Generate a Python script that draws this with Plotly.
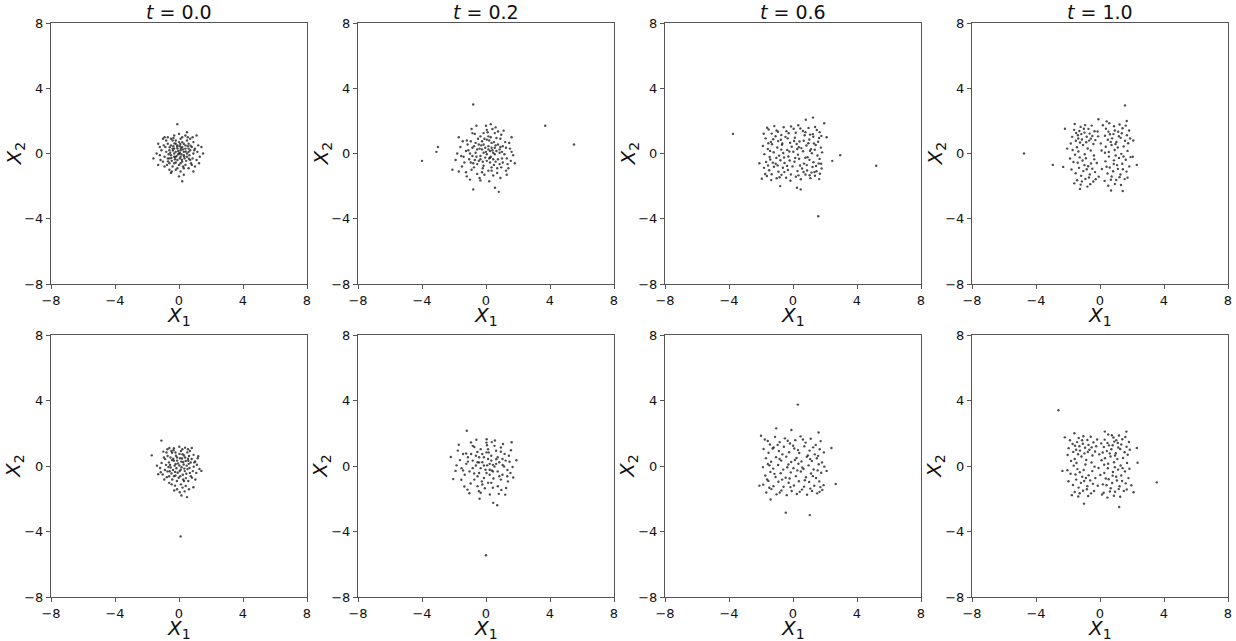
import plotly.graph_objects as go

# ---------------- data (data units) ----------------
time_labels = ["0.0", "0.2", "0.6", "1.0"]
tick_vals = [-8, -4, 0, 4, 8]
tick_text = ["\u22128", "\u22124", "0", "4", "8"]

pts_top_t00 = [
    (-0.1,1.8),(0.2,-1.7),(-1.6,-0.3),(1.5,0.0),(1.1,1.1),(0.5,1.3),(-0.9,1.0),(-1.3,0.6),(0.9,-1.1),(-0.5,-1.2),(0.0,-1.4),(0.3,-1.3),(-0.2,-1.0),
    (0.0,0.0),(0.1,0.2),(-0.2,0.1),(0.3,-0.1),(-0.3,-0.2),(0.2,0.4),(-0.1,-0.4),(0.4,0.3),(-0.4,0.3),(0.5,-0.2),(-0.5,-0.1),(0.1,-0.2),(-0.1,0.3),
    (0.6,0.1),(-0.6,0.2),(0.2,-0.5),(-0.2,0.6),(0.3,0.6),(-0.3,-0.6),(0.7,-0.4),(-0.7,-0.3),(0.0,0.7),(0.0,-0.7),(0.8,0.4),(-0.8,0.1),(0.4,-0.7),
    (-0.4,0.8),(0.6,0.6),(-0.6,-0.6),(0.9,0.0),(-0.9,-0.2),(0.1,0.9),(-0.1,-0.9),(0.5,0.8),(-0.5,0.5),(0.7,0.2),(-0.7,0.6),(0.3,0.1),(-0.3,0.0),
    (0.15,-0.05),(-0.05,0.15),(0.25,0.25),(-0.25,-0.35),(0.45,-0.45),(-0.45,-0.45),(0.55,0.45),(-0.55,0.05),(0.05,0.45),(0.05,-0.3),(-0.15,-0.15),
    (0.35,-0.3),(-0.35,0.45),(0.65,-0.1),(-0.65,-0.05),(0.85,-0.3),(-0.85,0.4),(1.0,0.3),(-1.0,-0.5),(1.1,-0.4),(-1.1,0.2),(1.2,0.5),(-1.2,-0.1),
    (0.9,0.7),(-0.9,-0.8),(0.2,1.0),(-0.3,1.1),(0.6,-0.9),(-0.6,-1.0),(0.8,-0.7),(-0.8,0.8),(1.3,-0.2),(-1.4,0.0),(0.4,1.1),(-0.7,1.0),(1.0,-0.8),
    (-1.0,0.9),(0.0,1.2),(0.1,-1.1),(-0.4,-0.8),(0.7,0.9),(0.3,-0.9),(-0.2,0.8),(0.5,0.0),(-0.5,0.9),(0.6,0.3),(-0.1,0.5),(0.2,0.7),(-0.3,0.3),
    (0.4,0.5),(-0.6,-0.3),(0.1,-0.6),(-0.2,-0.55),(0.75,-0.6),(-0.75,-0.7),(0.95,0.2),(-0.95,0.5),(1.15,0.1),(-1.15,-0.4),(0.25,-0.8),(-0.45,-1.1),
    (0.55,1.0),(-0.35,0.95),(1.4,0.4),(-1.3,-0.7),(0.85,1.0),(1.25,-0.6),(-1.2,0.4),(0.05,0.05),(-0.05,-0.05),(0.12,0.32),(-0.22,-0.22),(0.32,-0.18),
    (-0.38,0.18),(0.42,0.12),(-0.12,0.42),(0.18,-0.38),(-0.48,-0.28),(0.62,-0.32),(-0.28,0.62),(0.08,0.58),(-0.58,0.38),(0.72,0.48),(-0.68,-0.48),
]

pts_top_t02 = [
    (-0.8,3.0),(-3.0,0.4),(-4.0,-0.45),(-3.1,0.1),(3.7,1.7),(5.5,0.55),(-2.1,-1.0),(-0.8,-2.2),(0.8,-2.35),(0.56,-2.1),
    (0.0,0.1),(0.3,-0.2),(-0.4,0.3),(0.6,0.5),(-0.7,-0.4),(0.2,0.8),(-0.2,-0.9),(1.0,0.1),(-1.1,0.2),(0.5,-0.7),(-0.5,0.9),(0.9,0.9),(-0.9,-1.0),
    (1.3,-0.3),(-1.4,-0.2),(0.1,1.3),(-0.1,-1.3),(1.2,0.7),(-1.2,0.8),(0.7,-1.2),(-0.7,1.2),(1.5,0.3),(-1.6,0.4),(1.4,-0.9),(-1.5,-0.8),(0.4,1.5),
    (-0.4,-1.5),(0.9,-1.5),(-0.9,1.5),(1.7,-0.1),(-1.8,0.0),(0.0,1.7),(0.2,-1.7),(1.1,1.4),(-1.2,-1.4),(1.6,1.0),(-1.7,1.0),(1.3,-1.3),(-1.0,-1.6),
    (0.6,1.6),(-0.6,1.7),(0.15,0.45),(-0.35,-0.15),(0.45,0.05),(-0.15,0.55),(0.75,-0.35),(-0.85,0.35),(0.25,-0.55),(-0.55,-0.65),(0.85,0.25),
    (-0.25,0.25),(0.05,-0.45),(0.35,0.65),(-0.65,0.05),(0.55,-0.05),(-0.45,0.55),(1.05,-0.55),(-1.05,-0.35),(0.15,1.05),(-0.15,-0.75),(0.65,0.95),
    (-0.75,-0.85),(1.25,0.35),(-1.25,0.15),(0.95,-0.85),(-0.95,0.75),(0.35,-1.05),(-0.35,1.05),(1.45,0.65),(-1.35,-0.55),(0.55,1.25),(-0.55,-1.25),
    (0.25,0.15),(-0.05,-0.25),(0.45,-0.35),(-0.25,0.75),(0.75,0.55),(-0.85,-0.15),(1.15,-0.05),(-1.15,0.55),(0.05,0.85),(0.15,-1.05),(0.85,-0.65),
    (-0.45,-0.45),(0.35,0.35),(-0.15,0.05),(0.65,0.15),(-0.65,0.65),(1.35,-0.65),(-1.45,0.75),(0.95,1.15),(-0.25,-1.15),(0.45,-1.35),(-0.85,1.25),
    (1.55,-0.45),(-1.55,-0.15),(0.05,1.45),(-0.35,-1.65),(1.05,0.45),(-0.55,0.25),(0.25,-0.25),(-0.05,0.35),(0.55,0.35),(-0.35,-0.35),(0.15,0.25),
    (0.85,0.05),(-0.95,-0.55),(0.35,-0.85),(-0.15,1.25),(1.25,-1.05),(-1.25,-1.15),(0.75,1.35),(-0.75,0.45),(0.05,-0.05),(0.4,0.2),(-0.3,0.5),
    (0.6,-0.5),(-0.6,-0.2),(0.2,-0.3),(-0.2,-0.5),(0.9,0.4),(-0.1,0.9),(0.7,-0.9),(-1.0,0.0),(1.0,-0.3),(0.3,1.0),(-0.8,-0.6),(0.5,0.7),(1.6,0.1),
    (-1.9,-0.4),(1.8,-0.6),(-1.7,-1.1),(0.3,1.8),
]

pts_top_t06 = [
    (-3.75,1.2),(5.2,-0.75),(1.58,-3.85),(2.95,-0.1),(2.45,-0.45),(0.8,2.07),(1.25,2.2),(0.25,-2.1),(0.48,-2.2),(-0.8,-2.0),(2.1,1.0),(-2.1,-0.6),
    (1.95,1.85),(-1.95,-1.55),
    (-1.83,1.21),(-1.52,1.47),(-1.17,1.68),(-0.94,1.33),(-0.58,1.61),(-0.27,1.24),(0.04,1.52),(0.33,1.73),(0.62,1.38),(0.97,1.57),(1.24,1.19),
    (1.49,1.44),(1.77,1.08),(-1.71,0.93),(-1.38,0.71),(-1.09,1.06),(-0.76,0.84),(-0.47,1.02),(-0.18,0.66),(0.12,0.97),(0.41,0.74),(0.73,1.12),
    (1.02,0.86),(1.31,0.62),(1.63,0.95),(-1.88,0.46),(-1.57,0.28),(-1.31,0.57),(-0.98,0.37),(-0.69,0.53),(-0.36,0.22),(-0.08,0.41),(0.23,0.58),
    (0.52,0.33),(0.84,0.49),(1.13,0.27),(1.42,0.52),(1.74,0.36),(-1.79,-0.04),(-1.46,-0.21),(-1.21,0.08),(-0.87,-0.13),(-0.61,0.03),(-0.29,-0.18),
    (0.02,0.11),(0.31,-0.07),(0.63,0.14),(0.91,-0.23),(1.18,0.02),(1.53,-0.12),(1.82,0.07),(-1.68,-0.52),(-1.42,-0.37),(-1.08,-0.63),(-0.79,-0.41),
    (-0.53,-0.58),(-0.21,-0.43),(0.09,-0.51),(0.38,-0.32),(0.69,-0.62),(1.03,-0.39),(1.28,-0.54),(1.61,-0.61),(-1.81,-0.88),(-1.49,-1.03),
    (-1.19,-0.81),(-0.91,-1.12),(-0.63,-0.87),(-0.32,-1.01),(-0.03,-0.79),(0.28,-1.08),(0.57,-0.92),(0.88,-1.04),(1.22,-0.83),(1.47,-1.09),
    (1.79,-0.92),(-1.63,-1.38),(-1.33,-1.27),(-1.02,-1.52),(-0.72,-1.31),(-0.43,-1.49),(-0.13,-1.28),(0.18,-1.42),(0.49,-1.58),(0.78,-1.29),
    (1.09,-1.51),(1.37,-1.36),(1.68,-1.24),(-1.62,1.58),(-1.33,1.22),(-1.03,1.41),(-0.73,1.13),(-0.41,1.37),(-0.12,1.66),(0.17,1.27),(0.46,1.53),
    (0.78,1.31),(1.07,1.16),(1.38,1.62),(1.67,1.31),(-1.54,0.63),(-1.24,0.87),(-0.93,0.76),(-0.67,0.61),(-0.33,0.93),(0.07,0.77),(0.36,0.38),
    (0.67,0.78),(0.96,0.63),(1.27,1.03),(1.57,0.72),(-1.43,0.16),(-1.04,-0.27),(-0.74,0.24),(-0.23,0.12),(0.26,0.27),(0.77,-0.26),(1.06,0.17),
    (1.36,0.23),(1.66,-0.33),(-1.56,-0.74),(-1.26,-0.56),(-0.96,-0.73),(-0.56,-0.24),(-0.37,-0.76),(0.14,-0.27),(0.44,-0.74),(0.86,-0.71),
    (1.16,-1.17),(1.44,-0.77),(1.76,-0.63),(-1.74,-1.26),(-1.36,-1.63),(-0.84,-1.46),(-0.54,-1.14),(-0.16,-1.67),(0.34,-1.34),(0.66,-1.13),
    (1.04,-1.33),(1.34,-1.14),(1.64,-1.57),
]

pts_top_t10 = [
    (1.56,2.95),(-2.95,-0.7),(-4.75,0.0),(-2.19,1.52),(-2.3,-0.82),(1.67,1.99),(1.42,-2.3),(-1.25,-2.17),(0.69,-2.27),(2.08,0.8),(2.05,-0.2),
    (2.3,-0.7),(-0.1,2.1),(-2.05,0.3),
    (-1.62,1.45),(-1.38,1.12),(-1.21,1.63),(-0.97,1.28),(-0.72,1.51),(-0.48,1.07),(-1.51,0.78),(-1.13,0.86),(-0.86,0.69),(-0.57,0.91),(-0.34,1.36),
    (-1.74,1.02),(-1.29,1.38),(-0.93,1.74),(-0.64,1.22),(-1.06,0.52),(-1.44,0.38),(-0.77,0.31),(-0.41,0.58),(-1.83,0.61),(-1.17,1.19),(-0.83,1.03),
    (-1.36,0.92),(-0.52,1.71),(-1.58,1.81),(-0.29,0.82),(-1.01,1.52),(-1.25,0.67),(-0.68,0.79),(-1.49,1.26),
    (0.37,1.52),(0.62,1.18),(0.88,1.67),(1.14,1.33),(1.41,1.55),(1.68,1.12),(0.49,0.84),(0.76,0.93),(1.03,0.71),(1.29,0.96),(1.57,0.78),(1.82,1.41),
    (0.31,1.09),(0.93,1.41),(1.22,1.78),(0.58,1.86),(1.48,0.43),(1.11,0.37),(0.72,0.52),(0.36,0.41),(1.76,0.63),(0.84,1.19),(1.36,1.24),(0.53,1.34),
    (1.61,1.71),(0.97,0.58),(1.18,1.06),(0.67,0.71),(1.88,0.92),(0.42,1.97),
    (-1.66,-0.52),(-1.31,-0.88),(-1.09,-0.43),(-0.83,-0.97),(-0.56,-0.61),(-0.31,-1.14),(-1.52,-1.21),(-1.18,-1.37),(-0.91,-1.56),(-0.64,-1.28),
    (-0.42,-1.72),(-1.78,-0.98),(-1.43,-1.64),(-1.04,-1.08),(-0.74,-0.78),(-0.48,-0.93),(-1.27,-0.24),(-0.88,-0.29),(-0.61,-1.88),(-1.61,-1.83),
    (-1.21,-1.91),(-0.36,-0.36),(-1.87,-0.31),(-0.97,-0.71),(-1.39,-0.57),(-0.69,-1.47),(-1.13,-1.71),(-0.27,-1.58),(-1.56,-0.07),(-0.79,-2.03),
    (0.34,-0.48),(0.61,-0.86),(0.87,-0.42),(1.12,-0.94),(1.39,-0.63),(1.66,-1.11),(0.47,-1.23),(0.73,-1.41),(1.01,-1.62),(1.28,-1.29),(1.54,-1.57),
    (1.83,-0.79),(0.29,-1.68),(0.82,-1.09),(1.19,-0.27),(1.47,-0.18),(0.56,-0.19),(0.93,-1.87),(1.31,-1.93),(1.72,-1.48),(0.41,-0.81),(1.07,-0.71),
    (1.61,-0.38),(0.68,-1.61),(1.22,-1.45),(0.86,-0.64),(1.43,-0.97),(0.52,-1.98),(1.91,-0.22),(0.98,-0.12),
    (-1.35,0.12),(-0.95,-0.05),(-0.58,0.18),(-1.71,0.21),(0.55,0.09),(0.92,0.21),(1.33,-0.02),(1.72,0.16),(-0.38,-0.12),(0.31,0.05),
    (-0.15,1.35),(0.12,-0.95),(0.05,0.62),(-0.08,-1.42),(0.18,1.73),(-0.2,-0.58),(0.1,0.18),(-0.12,1.05),
]

pts_bot_t00 = [
    (-1.1,1.55),(-1.7,0.65),(0.1,-4.3),(0.5,-1.9),(0.15,-1.8),(1.4,-0.3),(1.2,0.6),(-1.3,-0.5),(0.8,1.1),(-0.6,1.1),(0.9,-1.3),(-0.3,-1.5),
    (0.02,0.03),(0.14,0.27),(-0.21,0.12),(0.33,-0.16),(-0.37,-0.24),(0.19,0.46),(-0.08,-0.41),(0.42,0.31),(-0.44,0.36),(0.53,-0.19),(-0.52,-0.09),
    (0.11,-0.23),(-0.12,0.33),(0.61,0.13),(-0.63,0.22),(0.24,-0.53),(-0.19,0.63),(0.31,0.64),(-0.31,-0.62),(0.68,-0.42),(-0.72,-0.33),(0.03,0.74),
    (-0.02,-0.72),(0.79,0.43),(-0.81,0.07),(0.43,-0.74),(-0.43,0.81),(0.63,0.61),(-0.62,-0.63),(0.92,-0.04),(-0.88,-0.24),(0.12,0.92),(-0.13,-0.92),
    (0.52,0.83),(-0.53,0.52),(0.73,0.21),(-0.71,0.61),(0.29,0.09),(-0.27,0.02),(0.16,-0.07),(-0.06,0.16),(0.26,0.24),(-0.24,-0.36),(0.46,-0.47),
    (-0.47,-0.46),(0.56,0.44),(-0.56,0.06),(0.07,0.47),(0.04,-0.31),(-0.16,-0.14),(0.36,-0.31),(-0.36,0.44),(0.66,-0.12),(-0.66,-0.06),(0.86,-0.31),
    (-0.86,0.42),(1.01,0.28),(-1.02,-0.52),(1.08,-0.42),(-1.09,0.19),(1.17,0.47),(-1.18,-0.12),(0.91,0.68),(-0.92,-0.82),(0.21,1.02),(-0.32,1.08),
    (0.58,-0.92),(-0.61,-1.03),(0.81,-0.71),(-0.78,0.82),(1.28,-0.18),(-1.38,0.02),(0.38,1.12),(-0.72,1.02),(1.02,-0.82),(-0.98,0.88),(0.02,1.18),
    (0.12,-1.12),(-0.42,-0.82),(0.68,0.92),(0.31,-0.92),(-0.22,0.82),(0.48,0.02),(-0.48,0.92),(0.58,0.32),(-0.12,0.52),(0.22,0.72),(-0.32,0.32),
    (0.38,0.52),(-0.58,-0.32),(0.08,-0.62),(-0.22,-0.58),(0.74,-0.62),(-0.76,-0.68),(0.96,0.22),(-0.94,0.52),(1.12,0.08),(-1.14,-0.38),(0.26,-0.82),
    (-0.46,-1.12),(0.56,1.02),(-0.34,0.96),(0.22,-1.32),(-0.12,-1.42),(0.42,-1.22),(0.05,-1.6),(-0.25,-1.2),(0.62,-1.42),(0.35,-1.55),
]

pts_bot_t02 = [
    (-1.2,2.15),(-2.05,-0.8),(0.7,-2.4),(0.0,-5.45),(0.45,-2.25),(-2.2,0.55),(1.9,0.35),(-0.4,-2.0),(1.6,1.45),(-1.7,1.3),
    (0.07,0.04),(0.36,-0.27),(-0.43,0.22),(0.64,0.41),(-0.74,-0.46),(0.17,0.83),(-0.26,-0.94),(1.04,0.06),(-1.13,0.27),(0.47,-0.76),(-0.54,0.86),
    (0.93,0.87),(-0.96,-1.07),(1.34,-0.24),(-1.43,-0.27),(0.06,1.27),(-0.07,-1.36),(1.16,0.74),(-1.24,0.76),(0.74,-1.24),(-0.73,1.16),(1.47,0.26),
    (-1.63,0.36),(1.37,-0.94),(-1.54,-0.84),(0.36,1.46),(-0.44,-1.54),(0.96,-1.46),(-0.94,1.44),(1.66,-0.06),(-1.84,0.04),(0.04,1.63),(0.24,-1.74),
    (1.06,1.34),(-1.16,-1.44),(1.56,0.96),(-1.76,0.94),(1.26,-1.34),(-1.04,-1.66),(0.56,1.56),(0.13,0.43),(-0.33,-0.13),(0.43,0.07),(-0.13,0.53),
    (0.73,-0.33),(-0.83,0.33),(0.23,-0.53),(-0.53,-0.63),(0.83,0.23),(-0.23,0.23),(0.03,-0.43),(0.33,0.63),(-0.63,0.03),(0.53,-0.03),(-0.43,0.53),
    (1.03,-0.53),(-1.03,-0.33),(0.13,1.03),(-0.13,-0.73),(0.63,0.93),(-0.73,-0.83),(1.23,0.33),(-1.23,0.13),(0.93,-0.83),(-0.93,0.73),(0.33,-1.03),
    (-0.33,1.03),(1.43,0.63),(-1.33,-0.53),(0.53,1.23),(-0.53,-1.23),(0.23,0.13),(-0.03,-0.23),(0.43,-0.33),(-0.23,0.73),(0.73,0.53),(-0.83,-0.13),
    (1.13,-0.03),(-1.13,0.53),(0.03,0.83),(0.13,-1.03),(0.83,-0.63),(-0.43,-0.43),(0.33,0.33),(-0.13,0.03),(0.63,0.13),(-0.63,0.63),(1.33,-0.63),
    (-1.43,0.73),(0.93,1.13),(-0.23,-1.13),(0.43,-1.33),(-0.83,1.23),(1.53,-0.43),(-1.53,-0.13),(0.03,1.43),(-0.33,-1.63),(1.03,0.43),(-0.53,0.23),
    (0.23,-0.23),(1.7,-0.7),(-1.9,-0.3),(0.8,-1.7),(-0.6,1.6),(1.2,-1.75),(-1.35,-1.25),
]

pts_bot_t06 = [
    (-1.05,2.3),(-0.1,2.2),(-2.0,1.85),(2.4,1.1),(2.67,-1.1),(-0.45,-2.85),(1.05,-3.0),(0.3,3.75),(2.1,-0.3),(-2.1,-1.2),(1.6,2.05),(-1.4,-2.05),
    (-1.76,1.62),(-1.44,1.31),(-1.12,1.78),(-0.83,1.46),(-0.51,1.69),(-0.19,1.37),(0.14,1.58),(0.47,1.81),(0.79,1.43),(1.11,1.66),(1.42,1.29),
    (1.73,1.52),(-1.84,1.04),(-1.53,0.81),(-1.21,1.13),(-0.88,0.92),(-0.57,1.18),(-0.24,0.84),(0.08,1.07),(0.39,0.79),(0.71,1.21),(1.04,0.94),
    (1.36,0.71),(1.67,1.02),(1.93,0.83),(-1.69,0.48),(-1.37,0.26),(-1.06,0.54),(-0.74,0.33),(-0.42,0.57),(-0.11,0.24),(0.22,0.49),(0.53,0.28),
    (0.86,0.56),(1.18,0.31),(1.49,0.47),(1.81,0.22),(-1.88,-0.07),(-1.57,0.12),(-1.24,-0.16),(-0.93,0.06),(-0.61,-0.22),(-0.29,0.09),(0.03,-0.13),
    (0.34,0.14),(0.66,-0.18),(0.97,0.04),(1.29,-0.21),(1.61,0.11),(1.96,-0.04),(-1.73,-0.58),(-1.41,-0.36),(-1.09,-0.67),(-0.77,-0.44),(-0.46,-0.71),
    (-0.14,-0.39),(0.18,-0.62),(0.49,-0.34),(0.81,-0.69),(1.13,-0.46),(1.44,-0.73),(1.76,-0.41),(-1.86,-1.14),(-1.54,-0.91),(-1.22,-1.23),
    (-0.91,-0.96),(-0.59,-1.27),(-0.27,-1.02),(0.06,-1.19),(0.37,-0.93),(0.69,-1.26),(1.01,-0.98),(1.33,-1.21),(1.64,-0.94),(1.91,-1.17),
    (-1.67,-1.62),(-1.35,-1.41),(-1.03,-1.73),(-0.72,-1.49),(-0.39,-1.78),(-0.08,-1.53),(0.24,-1.71),(0.56,-1.44),(0.88,-1.76),(1.19,-1.52),
    (1.51,-1.67),(1.83,-1.47),(-1.58,1.53),(-1.27,1.07),(-0.96,1.29),(-0.66,0.71),(-0.33,1.54),(0.01,1.24),(0.31,0.97),(0.62,1.62),(0.93,0.64),
    (1.26,1.14),(1.57,0.62),(-1.47,0.04),(-0.84,0.43),(-0.36,-0.08),(0.12,0.37),(0.58,-0.09),(1.07,0.42),(1.54,-0.27),(-1.62,-0.82),(-1.16,-0.48),
    (-0.68,-0.83),(-0.21,-0.76),(0.27,-0.27),(0.74,-0.87),(1.24,-0.62),(1.71,-1.29),(-1.48,-1.33),(-0.83,-1.62),(-0.16,-1.29),(0.42,-1.58),
    (1.08,-1.38),(1.66,-1.58),
]

pts_bot_t10 = [
    (-2.6,3.4),(3.55,-1.0),(2.3,1.1),(-2.35,-0.3),(-2.2,1.75),(2.1,-1.6),(-1.0,-2.3),(1.2,-2.5),(0.3,2.1),(-1.6,2.0),(1.65,2.1),(2.35,0.2),
    (-1.88,1.57),(-1.56,1.24),(-1.33,1.71),(-1.07,1.36),(-0.79,1.59),(-0.52,1.14),(-1.67,0.86),(-1.25,0.94),(-0.97,0.77),(-0.66,0.99),(-0.41,1.44),
    (-1.96,1.09),(-1.43,1.46),(-1.04,1.82),(-0.72,1.29),(-1.16,0.58),(-1.58,0.43),(-0.86,0.37),(-0.47,0.64),(-2.02,0.67),(-1.29,1.21),(-0.93,1.11),
    (-1.49,0.99),(-0.58,1.79),(-0.31,0.89),(-1.12,1.57),(-1.37,0.72),(-0.76,0.86),(-1.71,1.34),(-0.24,1.21),
    (0.29,1.61),(0.56,1.26),(0.84,1.74),(1.11,1.41),(1.39,1.63),(1.66,1.18),(0.43,0.91),(0.71,1.02),(0.99,0.78),(1.26,1.04),(1.54,0.84),(1.81,1.47),
    (0.24,1.16),(0.89,1.49),(1.19,1.86),(0.51,1.93),(1.44,0.49),(1.08,0.42),(0.66,0.58),(0.31,0.47),(1.73,0.69),(0.79,1.27),(1.33,1.31),(0.47,1.41),
    (1.58,1.77),(0.94,0.64),(1.14,1.13),(0.61,0.77),(1.86,0.99),(0.17,0.82),(1.02,1.58),(0.74,1.88),
    (-1.84,-0.47),(-1.49,-0.83),(-1.26,-0.38),(-0.99,-0.92),(-0.71,-0.57),(-0.44,-1.09),(-1.69,-1.16),(-1.34,-1.32),(-1.06,-1.51),(-0.79,-1.23),
    (-0.56,-1.67),(-1.97,-0.93),(-1.58,-1.59),(-1.19,-1.03),(-0.88,-0.73),(-0.61,-0.88),(-1.41,-0.19),(-1.02,-0.24),(-0.74,-1.83),(-1.76,-1.78),
    (-1.36,-1.86),(-0.48,-0.31),(-2.04,-0.26),(-1.11,-0.66),(-1.53,-0.52),(-0.82,-1.42),(-1.27,-1.66),(-0.37,-1.53),(-0.29,-0.74),(-1.64,0.02),
    (0.27,-0.43),(0.54,-0.81),(0.81,-0.37),(1.06,-0.89),(1.33,-0.58),(1.61,-1.06),(0.41,-1.18),(0.67,-1.36),(0.94,-1.57),(1.22,-1.24),(1.49,-1.52),
    (1.78,-0.74),(0.23,-1.63),(0.76,-1.04),(1.13,-0.22),(1.41,-0.13),(0.49,-0.14),(0.87,-1.82),(1.26,-1.88),(1.67,-1.43),(0.36,-0.76),(1.01,-0.66),
    (1.56,-0.33),(0.62,-1.56),(1.17,-1.41),(0.79,-0.59),(1.38,-0.92),(0.46,-1.93),(1.84,-0.17),(0.93,-0.07),(1.96,-1.18),(0.18,-1.12),
    (-1.47,0.18),(-0.91,0.09),(-0.53,0.21),(-1.81,0.31),(0.51,0.14),(0.88,0.23),(1.29,0.03),(1.69,0.19),(-0.34,-0.04),(0.26,0.08),
    (0.08,1.38),(-0.14,-1.21),(0.02,-0.55),(-0.05,0.71),(0.13,-1.74),(-0.18,1.62),(0.1,0.35),(-0.09,-0.12),
]

panels = [[pts_top_t00, pts_top_t02, pts_top_t06, pts_top_t10],
          [pts_bot_t00, pts_bot_t02, pts_bot_t06, pts_bot_t10]]

# ---------------- layout geometry (pixels) ----------------
W, H = 1236, 641
col_left = [51, 358, 665, 972]
panel_w = 256
row_top = [23, 335]
row_bot = [284, 597]
FONT = "DejaVu Sans"

fig = go.Figure()
annotations = []
layout_axes = {}

k = 0
for r in range(2):
    for c in range(4):
        k += 1
        pts = panels[r][c]
        xs = [p[0] for p in pts]
        ys = [p[1] for p in pts]
        xa = "x" if k == 1 else f"x{k}"
        ya = "y" if k == 1 else f"y{k}"
        fig.add_trace(go.Scatter(
            x=xs, y=ys, mode="markers", xaxis=xa, yaxis=ya, showlegend=False,
            marker=dict(size=2.4, color="rgba(25,25,25,0.78)", line=dict(width=0)),
            hoverinfo="skip"))
        x0 = col_left[c] / W
        x1 = (col_left[c] + panel_w) / W
        y0 = 1 - row_bot[r] / H
        y1 = 1 - row_top[r] / H
        common = dict(range=[-8, 8], tickvals=tick_vals, ticktext=tick_text,
                      showgrid=False, zeroline=False, showline=True, mirror=True,
                      linecolor="#555555", linewidth=1, ticks="outside", ticklen=4,
                      tickwidth=1, tickcolor="#555555", automargin=False,
                      tickfont=dict(family=FONT, size=13, color="#111111"),
                      fixedrange=True)
        layout_axes[("xaxis" if k == 1 else f"xaxis{k}")] = dict(
            domain=[x0, x1], anchor=ya, **common)
        layout_axes[("yaxis" if k == 1 else f"yaxis{k}")] = dict(
            domain=[y0, y1], anchor=xa, **common)
        cx = (col_left[c] + panel_w / 2) / W
        cy = 1 - (row_top[r] + row_bot[r]) / 2 / H
        # x label
        annotations.append(dict(
            text="<i>X</i><sub>1</sub>", x=cx, y=1 - (row_bot[r] + 32) / H,
            xref="paper", yref="paper", xanchor="center", yanchor="middle",
            showarrow=False, font=dict(family=FONT, size=20, color="#111111")))
        # y label
        annotations.append(dict(
            text="<i>X</i><sub>2</sub>", x=(col_left[c] - 37) / W, y=cy,
            xref="paper", yref="paper", xanchor="center", yanchor="middle",
            textangle=-90, showarrow=False,
            font=dict(family=FONT, size=20, color="#111111")))
        if r == 0:
            annotations.append(dict(
                text=f"<i>t</i> = {time_labels[c]}", x=cx, y=1 - 12 / H,
                xref="paper", yref="paper", xanchor="center", yanchor="middle",
                showarrow=False, font=dict(family=FONT, size=19, color="#111111")))

fig.update_layout(
    template="none",
    width=W, height=H, margin=dict(l=0, r=0, t=0, b=0, autoexpand=False),
    paper_bgcolor="white", plot_bgcolor="white",
    annotations=annotations, **layout_axes)

fig.write_html("out.html",
               config={"displayModeBar": False, "staticPlot": True},
               post_script="document.body.style.margin='0px';document.body.style.overflow='hidden';")
